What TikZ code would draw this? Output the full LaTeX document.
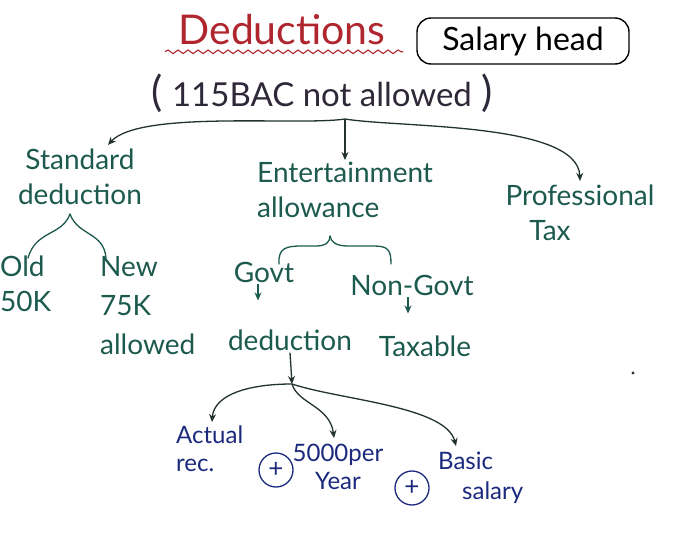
\documentclass[tikz,border=0pt]{standalone}
\usepackage{fontspec}
\setmainfont{Lato}
\usetikzlibrary{arrows.meta,decorations.pathmorphing,calc}

\definecolor{inkred}{HTML}{B0262E}
\definecolor{inkgreen}{HTML}{1D5A4E}
\definecolor{inkblue}{HTML}{1C2A7E}
\definecolor{inkdark}{HTML}{2F2838}
\definecolor{inkstem}{HTML}{22332F}

\begin{document}
\begin{tikzpicture}[x=1pt,y=-1pt,
  gtext/.style={text=inkgreen,font=\fontsize{28}{35}\selectfont,inner sep=2pt},
  btext/.style={text=inkblue,font=\fontsize{24}{28}\selectfont,inner sep=2pt},
  gline/.style={draw=inkgreen,line width=1.3pt,line cap=round},
  tiparrow/.style={-{Stealth[length=8pt,width=7pt]},line width=1.3pt},
  plusmark/.style={draw=inkblue,text=inkblue,circle,line width=1.3pt,minimum size=34pt,inner sep=0pt,font=\fontsize{26}{26}\selectfont}
]
\useasboundingbox (0,0) rectangle (685,540);
\fill[white] (0,0) rectangle (685,540);

% heading
\node[text=inkred,font=\fontsize{41}{46}\selectfont] (title) at (282,30) {Deductions};
\draw[inkred,line width=1.1pt,decorate,decoration={snake,amplitude=1.8pt,segment length=10pt}]
  ($(title.south west)+(-10,3)$) -- ($(title.south east)+(14,3)$);
\node[draw,rounded corners=14pt,line width=1.4pt,minimum width=212pt,minimum height=46pt,
      font=\fontsize{32}{36}\selectfont] (head) at (523,41) {Salary head};
\node[text=inkdark,font=\fontsize{33}{38}\selectfont] (rule) at (322,93)
  {{\fontsize{42}{42}\selectfont(}\;115BAC not allowed\;{\fontsize{42}{42}\selectfont)}};

% first level
\coordinate (split) at (345,119);
\node[gtext,align=center] (std) at (80,177) {Standard\\deduction};
\node[gtext,align=left,anchor=north west] (ent) at (255,160) {Entertainment\\allowance};
\node[gtext,align=center] (prof) at (580,213) {Professional\\Tax\hspace*{60pt}};

\draw[tiparrow,draw=inkstem] (split) -- (split |- ent.north);
\draw[tiparrow,draw=inkstem] (split) .. controls (300,126) and (140,110) .. ($(std.north)+(28,-2)$);
\draw[tiparrow,draw=inkstem] (split) .. controls (400,128) and (578,122) .. ($(prof.north)+(0,-2)$);

% standard deduction branch
\node[gtext,align=left,anchor=north west] (old) at (-2,254) {Old\\50K};
\node[gtext,align=left,anchor=north west] (new) at (98,254) {New\\[4pt]75K\\[4pt]allowed};
\coordinate (sdpeak) at (70,214);
\coordinate (sdleft) at (28,258);
\coordinate (sdright) at (106,258);
\draw[gline] (sdpeak) .. controls (62,236) and (36,230) .. (sdleft);
\draw[gline] (sdpeak) .. controls (78,236) and (104,232) .. (sdright);

% entertainment allowance branch
\node[gtext] (govt) at (264,272) {Govt};
\node[gtext] (ngovt) at (412,285) {Non-Govt};
\node[gtext] (gded) at (290,340) {deduction};
\node[gtext] (taxable) at (425,346) {Taxable};
\coordinate (eleft) at (279,264);
\coordinate (epeak) at (330,236);
\coordinate (eright) at (391,264);
\draw[gline] (eleft) .. controls (278,248) and (286,246) .. (302,246) -- (316,246)
  .. controls (326,246) and (330,242) .. (epeak);
\draw[gline] (epeak) .. controls (331,242) and (336,246) .. (348,246) -- (374,246)
  .. controls (388,246) and (391,250) .. (eright);
\draw[tiparrow,draw=inkgreen] ($(govt.south)+(-6,0)$) -- ($(govt.south)+(-6,16)$);
\draw[tiparrow,draw=inkgreen] ($(ngovt.south)+(-4,0)$) -- ($(ngovt.south)+(-4,16)$);

% deduction parts
\coordinate (split2) at (292,384);
\draw[tiparrow,draw=inkstem] (gded.south) -- (split2);
\node[btext,align=left,anchor=north west] (actual) at (174,424) {Actual\\rec.};
\node[btext,align=center] (per) at (338,467) {5000per\\Year};
\node[btext,align=left,anchor=north west] (basic) at (436,450) {Basic\\[2pt]\hspace*{24pt}salary};
\node[plusmark] (plusa) at (276,470) {+};
\node[plusmark] (plusb) at (412,488) {+};

\draw[tiparrow,draw=inkstem] (split2) .. controls (250,384) and (214,394) .. ($(actual.north west)+(38,-2)$);
\draw[tiparrow,draw=inkstem] (split2) .. controls (298,404) and (330,406) .. ($(per.north)+(-4,-4)$);
\draw[tiparrow,draw=inkstem] (split2) .. controls (340,400) and (446,406) .. ($(basic.north west)+(20,-4)$);

% stray ink dot
\fill[inkdark] (633,373) circle (1.6pt);
\end{tikzpicture}
\end{document}
